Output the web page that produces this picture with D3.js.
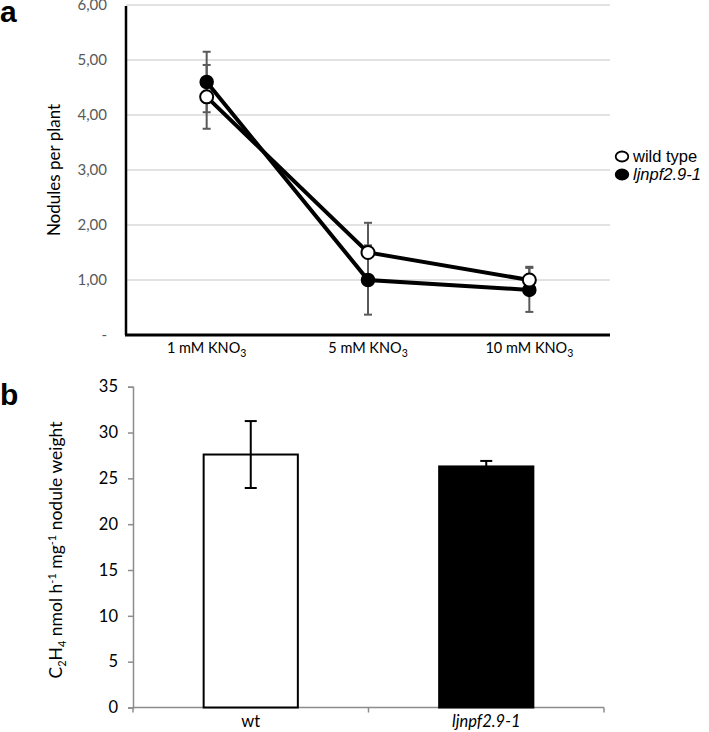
<!DOCTYPE html>
<html><head><meta charset="utf-8">
<script src="https://cdn.jsdelivr.net/npm/d3@7"></script>
<style>body{margin:0;background:#fff}svg{display:block}</style>
</head><body><svg id="c" width="709" height="732"></svg>
<script>
// Panel a data
const conc = ["1 mM", "5 mM", "10 mM"];
const wtNodules = [4.33, 1.5, 1.0];
const wtErr = [0.58, 0.54, 0.24];
const mutNodules = [4.6, 1.0, 0.82];
const mutErr = [0.55, 0.63, 0.4];
const yTicksA = [0, 1, 2, 3, 4, 5, 6];
// Panel b data
const genotypes = ["wt", "ljnpf2.9-1"];
const activity = [27.6, 26.3];
const activityErr = [3.65, 0.6];
const yTicksB = [0, 5, 10, 15, 20, 25, 30, 35];

const svg = d3.select("#c");
const font = "Lato, 'Open Sans', sans-serif";
const arial = "'Liberation Sans', Arial, sans-serif";

// ---------- Panel a ----------
const ax0 = 126, ax1 = 610, ay0 = 335, ay1 = 5;
const xA = d3.scaleBand().domain(conc).range([ax0, ax1]);
const yA = d3.scaleLinear().domain([0, 6]).range([ay0, ay1]);
const gA = svg.append("g");

gA.selectAll(".grid").data(yTicksA.filter(d => d > 0)).join("line")
  .attr("x1", ax0).attr("x2", ax1).attr("y1", d => yA(d)).attr("y2", d => yA(d))
  .attr("stroke", "#d9d9d9").attr("stroke-width", 1.5);

const yAxisA = d3.axisLeft(yA).tickValues(yTicksA).tickSize(0).tickPadding(19)
  .tickFormat(d => d === 0 ? "-" : d3.format(".2f")(d).replace(".", ","));
const gyA = gA.append("g").attr("transform", `translate(${ax0},0)`).call(yAxisA);
gyA.select(".domain").remove();
gyA.selectAll("text").attr("font-family", font).attr("font-size", 15).attr("fill", "#595959");

gA.append("line").attr("x1", ax0).attr("x2", ax0).attr("y1", ay1 + 1).attr("y2", ay0)
  .attr("stroke", "#000").attr("stroke-width", 2.5);
gA.append("line").attr("x1", ax0 - 1).attr("x2", ax1).attr("y1", ay0).attr("y2", ay0)
  .attr("stroke", "#000").attr("stroke-width", 3);

// x labels with subscript
conc.forEach(c => {
  const t = gA.append("text").attr("x", xA(c) + xA.bandwidth() / 2).attr("y", 353)
    .attr("text-anchor", "middle").attr("font-family", font).attr("font-size", 14.5).attr("fill", "#000");
  t.append("tspan").text(c + " KNO");
  t.append("tspan").text("3").attr("font-size", 10.5).attr("dy", 4);
});

gA.append("text").attr("transform", `translate(60,${(ay0 + ay1) / 2}) rotate(-90)`)
  .attr("text-anchor", "middle").attr("font-family", font).attr("font-size", 17)
  .text("Nodules per plant");

const cx = c => xA(c) + xA.bandwidth() / 2;
function errBars(vals, errs) {
  conc.forEach((c, i) => {
    const x = cx(c), top = yA(vals[i] + errs[i]), bot = yA(vals[i] - errs[i]);
    gA.append("line").attr("x1", x).attr("x2", x).attr("y1", top).attr("y2", bot)
      .attr("stroke", "#595959").attr("stroke-width", 2);
    [top, bot].forEach(y => gA.append("line").attr("x1", x - 4).attr("x2", x + 4)
      .attr("y1", y).attr("y2", y).attr("stroke", "#595959").attr("stroke-width", 2));
  });
}
errBars(wtNodules, wtErr);
errBars(mutNodules, mutErr);

const line = d3.line().x((d, i) => cx(conc[i])).y(d => yA(d));
gA.append("path").datum(wtNodules).attr("d", line).attr("fill", "none")
  .attr("stroke", "#000").attr("stroke-width", 4);
gA.append("path").datum(mutNodules).attr("d", line).attr("fill", "none")
  .attr("stroke", "#000").attr("stroke-width", 4);
gA.selectAll(".mut").data(mutNodules).join("circle")
  .attr("cx", (d, i) => cx(conc[i])).attr("cy", d => yA(d)).attr("r", 6.5)
  .attr("fill", "#000").attr("stroke", "#000").attr("stroke-width", 1.5);
gA.selectAll(".wt").data(wtNodules).join("circle")
  .attr("cx", (d, i) => cx(conc[i])).attr("cy", d => yA(d)).attr("r", 6.5)
  .attr("fill", "#fff").attr("stroke", "#000").attr("stroke-width", 2);

// legend
const legend = [{ n: "wild type", fill: "#fff", it: false }, { n: "ljnpf2.9-1", fill: "#000", it: true }];
legend.forEach((l, i) => {
  const y = 156.5 + i * 18;
  gA.append("ellipse").attr("cx", 622).attr("cy", y).attr("rx", 6.3).attr("ry", 5)
    .attr("fill", l.fill).attr("stroke", "#000").attr("stroke-width", 1.8);
  gA.append("text").attr("x", 633).attr("y", y + 5.5).attr("font-family", arial)
    .attr("font-size", 16.5).attr("font-style", l.it ? "italic" : "normal").text(l.n);
});

svg.append("text").attr("x", 0).attr("y", 22).attr("font-family", arial)
  .attr("font-weight", "bold").attr("font-size", 30).text("a");
svg.append("text").attr("x", 0).attr("y", 405).attr("font-family", arial)
  .attr("font-weight", "bold").attr("font-size", 30).text("b");

// ---------- Panel b ----------
const bx0 = 133, bx1 = 604, by0 = 707.5, by1 = 386.7;
const xB = d3.scaleBand().domain(genotypes).range([bx0, bx1]).paddingInner(0).paddingOuter(0);
const yB = d3.scaleLinear().domain([0, 35]).range([by0, by1]);
const gB = svg.append("g");

const yAxisB = d3.axisLeft(yB).tickValues(yTicksB).tickSize(5).tickPadding(10);
const gyB = gB.append("g").attr("transform", `translate(${bx0},0)`).call(yAxisB);
gyB.select(".domain").attr("stroke", "#8c8c8c").attr("stroke-width", 1.5);
gyB.selectAll(".tick line").attr("stroke", "#8c8c8c").attr("stroke-width", 1.5);
gyB.selectAll("text").attr("font-family", font).attr("font-size", 16.5).attr("fill", "#000");

const xAxisB = d3.axisBottom(xB).tickSize(0).tickPadding(8);
const gxB = gB.append("g").attr("transform", `translate(0,${by0})`).call(xAxisB);
gxB.select(".domain").attr("stroke", "#8c8c8c").attr("stroke-width", 1.5)
  .attr("d", `M${bx0},0H${bx1}`);
gxB.selectAll("text").attr("font-family", font).attr("font-size", 16.5).attr("fill", "#000")
  .attr("font-style", d => d === "wt" ? "normal" : "italic");
[bx0, bx0 + xB.bandwidth(), bx1].forEach(x => gB.append("line").attr("x1", x).attr("x2", x)
  .attr("y1", by0).attr("y2", by0 + 5).attr("stroke", "#8c8c8c").attr("stroke-width", 1.5));

const bw = xB.bandwidth() * 0.4;
gB.selectAll(".bar").data(genotypes).join("rect")
  .attr("x", d => xB(d) + (xB.bandwidth() - bw) / 2).attr("width", bw)
  .attr("y", (d, i) => yB(activity[i])).attr("height", (d, i) => by0 - yB(activity[i]))
  .attr("fill", (d, i) => i === 0 ? "#fff" : "#000").attr("stroke", "#000").attr("stroke-width", 2);

genotypes.forEach((g, i) => {
  const x = xB(g) + xB.bandwidth() / 2;
  const top = yB(activity[i] + activityErr[i]), bot = yB(activity[i] - activityErr[i]);
  gB.append("line").attr("x1", x).attr("x2", x).attr("y1", top).attr("y2", bot)
    .attr("stroke", "#000").attr("stroke-width", 2);
  [top, bot].forEach(y => gB.append("line").attr("x1", x - 6).attr("x2", x + 6)
    .attr("y1", y).attr("y2", y).attr("stroke", "#000").attr("stroke-width", 2));
});

// y label b
const yl = gB.append("text").attr("transform", `translate(62,${550}) rotate(-90)`)
  .attr("text-anchor", "middle").attr("font-family", font).attr("font-size", 17.5);
yl.append("tspan").text("C");
yl.append("tspan").text("2").attr("font-size", 11).attr("dy", 4);
yl.append("tspan").text("H").attr("dy", -4);
yl.append("tspan").text("4").attr("font-size", 11).attr("dy", 4);
yl.append("tspan").text(" nmol h").attr("dy", -4);
yl.append("tspan").text("-1").attr("font-size", 11).attr("dy", -6);
yl.append("tspan").text(" mg").attr("dy", 6);
yl.append("tspan").text("-1").attr("font-size", 11).attr("dy", -6);
yl.append("tspan").text(" nodule weight").attr("dy", 6);
</script></body></html>
